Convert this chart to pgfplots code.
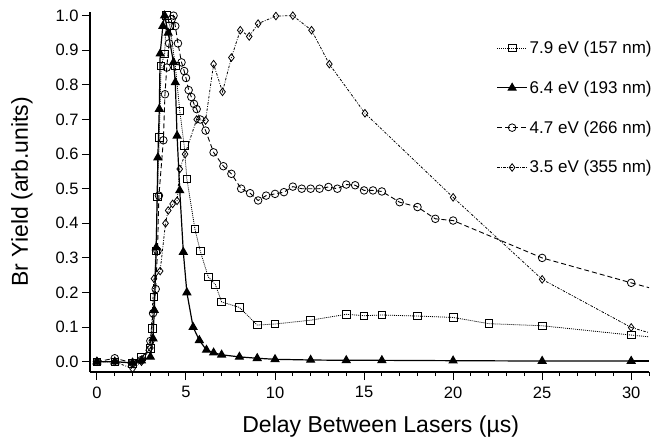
\documentclass[border=0pt]{standalone}
\usepackage{pgfplots}
\pgfplotsset{compat=1.18}
\usepackage{fontspec}
\setmainfont{Liberation Sans}
\begin{document}
\begin{tikzpicture}
\path[use as bounding box] (0,0) rectangle (670pt,440pt);
\begin{axis}[
  at={(90pt,68pt)}, anchor=south west,
  scale only axis, width=559pt, height=360.3pt,
  xmin=-0.39, xmax=31, ymin=-0.0297, ymax=1.0115,
  axis x line*=bottom, axis y line*=left,
  axis line style={line width=1.3pt, -},
  clip=false,
  tick align=outside,
  major tick length=8pt, minor tick length=4pt,
  every tick/.style={black, line width=1pt},
  xtick={0,5,10,15,20,25,30},
  minor xtick={1,2,3,4,6,7,8,9,11,12,13,14,16,17,18,19,21,22,23,24,26,27,28,29,31},
  ytick={0,0.1,0.2,0.3,0.4,0.5,0.6,0.7,0.8,0.9,1.0},
  yticklabel style={/pgf/number format/.cd, fixed, fixed zerofill, precision=1},
  /pgf/number format/assume math mode=true,
  tick label style={font=\fontsize{16.5}{19}\selectfont},
  xticklabel style={yshift=-3pt},
  xlabel={Delay Between Lasers (µs)},
  ylabel={Br Yield (arb.units)},
  label style={font=\fontsize{23}{26}\selectfont},
  xlabel style={at={(axis description cs:0.52,0)}, anchor=base, yshift=-60pt},
  ylabel style={at={(axis description cs:-0.1216,0.5)}, anchor=center},
  legend style={at={(axis description cs:1.014,0.93)}, anchor=north east,
    draw=none, fill=none, font=\fontsize{17}{20}\selectfont, row sep=22pt},
  legend cell align=left,
  legend image code/.code={\draw[mark repeat=2,mark phase=2] plot coordinates {(0pt,0pt)(15pt,0pt)(30pt,0pt)};},
]
% 7.9 eV
\addplot[black, line width=0.8pt, dash pattern=on 1pt off 1pt, mark=square, mark size=3.8pt, mark options={solid, line width=0.8pt, fill=white}] coordinates {
(0,0)(1,0)(2,-0.005)(2.5,0.014)(3,0.038)(3.1,0.096)(3.2,0.187)(3.3,0.32)(3.4,0.476)(3.5,0.648)(3.6,0.855)(3.8,0.889)(3.9,1.0)(4.1,0.97)(4.4,0.855)(4.65,0.725)(4.9,0.625)(5.05,0.528)(5.5,0.384)(5.8,0.32)(6.25,0.245)(6.65,0.223)(7,0.173)(8,0.157)(9,0.106)(10,0.109)(12,0.12)(14,0.137)(15,0.133)(16,0.135)(18,0.132)(20,0.128)(22,0.11)(25,0.104)(30,0.077)
};
\addlegendentry{7.9 eV (157 nm)}
% 6.4 eV
\addplot[black, line width=1.2pt, mark=triangle*, mark size=4.3pt, mark options={solid}] coordinates {
(0,0)(1,0)(2,-0.003)(2.5,0.003)(3,0.014)(3.15,0.067)(3.22,0.149)(3.33,0.33)(3.42,0.59)(3.5,0.73)(3.55,0.89)(3.7,0.97)(3.8,1.0)(4.0,0.95)(4.3,0.865)(4.4,0.807)(4.5,0.653)(4.65,0.495)(4.85,0.317)(5.05,0.2)(5.4,0.10)(5.75,0.062)(6.15,0.034)(6.55,0.026)(7,0.02)(8,0.014)(9,0.01)(10,0.007)(12,0.005)(14,0.004)(16,0.004)(20,0.003)(25,0.002)(30,0.002)
};
\addlegendentry{6.4 eV (193 nm)}
% 4.7 eV
\addplot[black, line width=0.9pt, dash pattern=on 5pt off 3pt, mark=o, mark size=3.8pt, mark options={solid, line width=0.8pt, fill=white}] coordinates {
(0,0)(1,0.01)(2,-0.003)(2.5,0.005)(3,0.06)(3.15,0.14)(3.3,0.21)(3.4,0.32)(3.48,0.48)(3.73,0.64)(3.82,0.773)(3.92,0.85)(4.05,0.92)(4.2,0.99)(4.3,1.0)(4.4,0.97)(4.55,0.92)(4.75,0.865)(4.9,0.84)(5.0,0.82)(5.15,0.785)(5.3,0.765)(5.45,0.745)(5.6,0.73)(5.8,0.70)(6.1,0.668)(6.55,0.605)(7.1,0.565)(7.55,0.543)(8.1,0.50)(8.6,0.487)(9.05,0.466)(9.5,0.48)(10,0.485)(10.5,0.49)(11,0.506)(11.5,0.5)(12,0.5)(12.5,0.5)(13,0.505)(13.5,0.5)(14,0.512)(14.5,0.51)(15,0.495)(15.5,0.495)(16,0.492)(17,0.461)(18,0.447)(19,0.413)(20,0.408)(25,0.3)(30,0.228)
};
\addlegendentry{4.7 eV (266 nm)}
% 3.5 eV
\addplot[black, line width=0.8pt, dash pattern=on 2.5pt off 1.5pt on 0.8pt off 1.5pt, mark=diamond, mark size=3.8pt, mark options={solid, line width=0.8pt, fill=white}] coordinates {
(0,0)(1,0)(2,-0.02)(2.5,0)(3,0.04)(3.2,0.24)(3.55,0.262)(3.85,0.40)(4.0,0.437)(4.25,0.456)(4.5,0.465)(4.65,0.557)(4.95,0.60)(5.6,0.70)(6.1,0.697)(6.55,0.86)(7.05,0.78)(7.55,0.879)(8.05,0.958)(8.55,0.94)(9.05,0.977)(10.05,0.999)(11,1.0)(12.05,0.958)(13.05,0.86)(15.05,0.718)(20,0.475)(25,0.238)(30,0.099)
};
\addlegendentry{3.5 eV (355 nm)}
% line continuations to the axis end
\addplot[black, line width=0.8pt, dash pattern=on 1pt off 1pt, forget plot] coordinates {(30,0.077)(31,0.072)};
\addplot[black, line width=1.2pt, forget plot] coordinates {(30,0.002)(31,0.002)};
\addplot[black, line width=0.9pt, dash pattern=on 5pt off 3pt, forget plot] coordinates {(30,0.228)(31,0.214)};
\addplot[black, line width=0.8pt, dash pattern=on 2.5pt off 1.5pt on 0.8pt off 1.5pt, forget plot] coordinates {(30,0.099)(31,0.084)};
\end{axis}
\end{tikzpicture}
\end{document}
